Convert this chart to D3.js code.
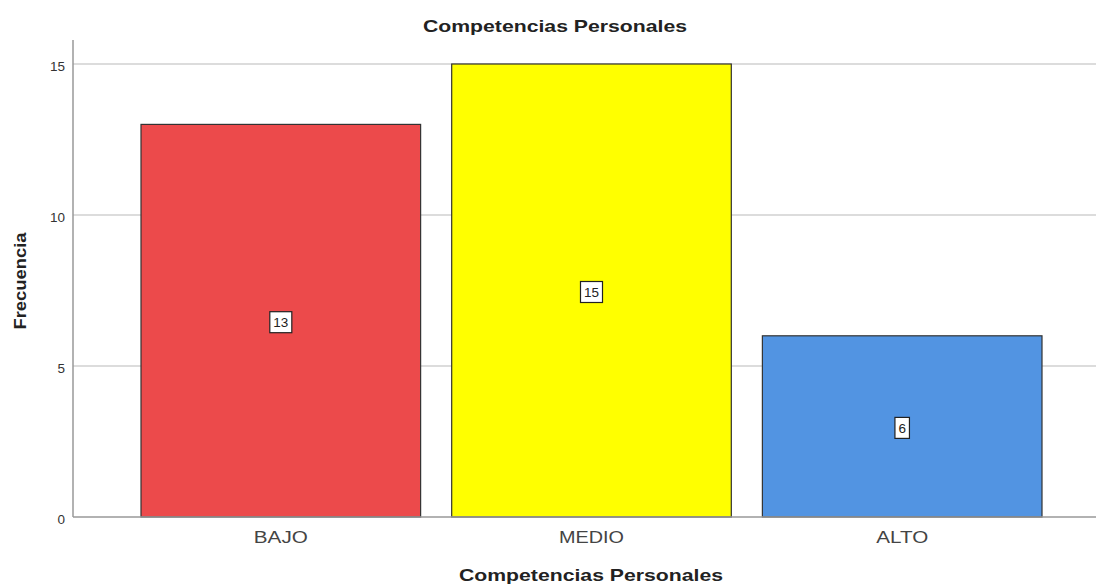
<!DOCTYPE html>
<html><head><meta charset="utf-8">
<script src="https://cdn.jsdelivr.net/npm/d3@7"></script>
<style>body{margin:0;background:#fff;} svg{display:block;font-family:Arial,"Liberation Sans",sans-serif;}</style>
</head><body>
<svg id="c" width="1096" height="585"></svg>
<script>
const categories = ["BAJO", "MEDIO", "ALTO"];
const values = [13, 15, 6];
const colors = ["#EC4A4B", "#FFFF00", "#5294E2"];
const yTicks = [0, 5, 10, 15];
const title = "Competencias Personales";
const xTitle = "Competencias Personales";
const yTitle = "Frecuencia";

const svg = d3.select("#c");
const y = d3.scaleLinear().domain([0, 15]).range([517, 64]);
const x = d3.scaleBand().domain(categories).range([141, 1042]).paddingInner(0.1).paddingOuter(0);
const left = 73, right = 1096;
const ff = "Arial,'Liberation Sans',sans-serif";

// gridlines
svg.append("g").selectAll("line").data(yTicks.filter(d => d > 0)).join("line")
  .attr("x1", left).attr("x2", right).attr("y1", d => y(d)).attr("y2", d => y(d))
  .attr("stroke", "#dcdcdc").attr("stroke-width", 2);

// bars
svg.append("g").selectAll("rect").data(values).join("rect")
  .attr("x", (d, i) => x(categories[i]))
  .attr("y", d => y(d))
  .attr("width", x.bandwidth())
  .attr("height", d => y(0) - y(d))
  .attr("fill", (d, i) => colors[i])
  .attr("stroke", "#333").attr("stroke-width", 1.2);

// axes
const yAxis = d3.axisLeft(y).tickValues(yTicks).tickSize(0).tickPadding(8);
const gy = svg.append("g").attr("transform", `translate(${left},0)`).call(yAxis);
gy.select(".domain").remove();
gy.selectAll("text").attr("font-size", 13).attr("fill", "#333").attr("font-family", ff)
  .attr("dy", "0.5em")
  .each(function(d) { const s = String(d); d3.select(this).attr("textLength", s.length * 7.5).attr("lengthAdjust", "spacingAndGlyphs"); });
svg.append("line").attr("x1", left).attr("x2", left).attr("y1", 40).attr("y2", 517)
  .attr("stroke", "#999").attr("stroke-width", 1.5);

const catWidths = {"BAJO": 54, "MEDIO": 65, "ALTO": 52};
const xAxis = d3.axisBottom(x).tickSize(0).tickPadding(12);
const gx = svg.append("g").attr("transform", `translate(0,517)`).call(xAxis);
gx.select(".domain").remove();
gx.selectAll("text").attr("font-size", 17).attr("fill", "#444").attr("font-family", ff)
  .attr("y", 26).attr("dy", 0)
  .attr("textLength", d => catWidths[d]).attr("lengthAdjust", "spacingAndGlyphs");
svg.append("line").attr("x1", left).attr("x2", right).attr("y1", 517).attr("y2", 517)
  .attr("stroke", "#999").attr("stroke-width", 1.5);

// value labels
const lg = svg.append("g").selectAll("g").data(values).join("g")
  .attr("transform", (d, i) => `translate(${x(categories[i]) + x.bandwidth() / 2},${y(d / 2) + 1.5})`);
lg.append("rect")
  .attr("x", d => -(String(d).length * 7.5 + 7) / 2).attr("y", -10.5)
  .attr("width", d => String(d).length * 7.5 + 7).attr("height", 21)
  .attr("fill", "#fff").attr("stroke", "#222").attr("stroke-width", 1.2);
lg.append("text").text(d => d).attr("text-anchor", "middle").attr("dy", "0.36em")
  .attr("font-size", 13).attr("fill", "#222")
  .attr("textLength", d => String(d).length * 7.5).attr("lengthAdjust", "spacingAndGlyphs");

// titles
svg.append("text").attr("x", 555).attr("y", 32).attr("text-anchor", "middle")
  .attr("font-size", 17).attr("font-weight", "bold").attr("fill", "#222")
  .attr("textLength", 264).attr("lengthAdjust", "spacingAndGlyphs").text(title);
svg.append("text").attr("x", 591).attr("y", 581).attr("text-anchor", "middle")
  .attr("font-size", 17).attr("font-weight", "bold").attr("fill", "#222")
  .attr("textLength", 264).attr("lengthAdjust", "spacingAndGlyphs").text(xTitle);
svg.append("text").attr("transform", "translate(26,281) rotate(-90)").attr("text-anchor", "middle")
  .attr("font-size", 17).attr("font-weight", "bold").attr("fill", "#222")
  .attr("textLength", 97).attr("lengthAdjust", "spacingAndGlyphs").text(yTitle);
</script>
</body></html>
